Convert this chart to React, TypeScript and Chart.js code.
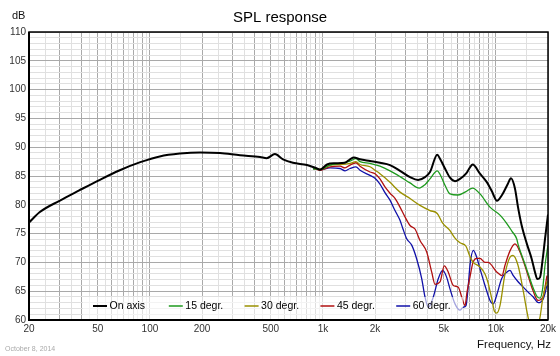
import React, { useEffect, useRef } from "react";
import { Chart, registerables } from "chart.js";

Chart.register(...registerables);

const FONT = '"Liberation Sans", Arial, Helvetica, sans-serif';

// ---- data (frequency in Hz, level in dB) ----
const freqOnAxis = [20, 23, 30, 39, 51, 67, 88, 114, 149, 195, 254, 332, 433, 473, 528, 588, 671, 809, 924, 962, 1056, 1174, 1342, 1434, 1512, 1638, 1871, 2137, 2442, 2790, 3188, 3546, 3891, 4159, 4580, 4750, 5076, 5428, 5800, 6198, 6714, 7082, 7340, 8090, 8880, 9492, 10140, 10844, 11744, 12220, 12890, 13416, 14092, 15066, 16100, 16824, 17350, 17986, 18640, 19222, 20000];
const dbOnAxis = [76.9, 78.7, 80.7, 82.5, 84.3, 86.0, 87.4, 88.4, 88.9, 89.1, 89.0, 88.6, 88.3, 88.1, 88.8, 87.9, 87.3, 86.9, 86.3, 86.1, 87.0, 87.2, 87.3, 87.9, 88.2, 87.9, 87.6, 87.3, 86.9, 85.9, 84.8, 84.3, 84.8, 85.7, 88.7, 88.0, 86.3, 84.7, 84.1, 84.5, 85.4, 86.5, 87.0, 85.4, 83.9, 82.3, 80.7, 81.7, 83.7, 84.6, 82.8, 79.6, 76.4, 73.3, 70.6, 68.3, 67.1, 67.4, 70.6, 74.1, 78.3];

const freq15 = [876, 962, 1099, 1256, 1434, 1552, 1638, 1871, 2137, 2442, 2790, 3188, 3600, 3891, 4159, 4580, 4750, 5076, 5428, 6036, 6714, 7340, 8090, 9242, 10556, 11588, 12386, 13180, 13470, 14396, 15388, 16444, 17350, 18000, 18640, 19222, 20000];
const db15 = [86.3, 86.1, 86.9, 87.2, 87.6, 88.0, 87.5, 87.2, 86.7, 85.9, 84.9, 83.8, 82.9, 83.5, 84.5, 85.9, 85.3, 83.4, 81.9, 81.7, 82.3, 82.9, 81.9, 79.6, 78.2, 76.7, 75.4, 74.1, 73.0, 70.5, 68.0, 65.5, 64.0, 63.8, 65.5, 69.5, 73.0];

const freq30 = [876, 962, 1099, 1256, 1434, 1552, 1638, 1871, 2000, 2137, 2284, 2442, 2790, 3188, 3641, 4159, 4580, 4924, 5428, 5800, 6198, 6714, 7082, 7400, 8090, 8646, 9000, 9492, 9800, 10100, 10556, 11286, 12060, 12552, 13416, 14396, 15126, 15740, 16444, 17280, 17986, 18718, 19736];
const db30 = [86.3, 86.2, 86.9, 87.0, 87.2, 87.5, 87.0, 86.6, 86.0, 85.4, 84.7, 83.9, 82.2, 81.1, 79.9, 79.0, 78.5, 76.8, 75.5, 74.2, 73.4, 72.8, 71.0, 70.0, 69.2, 68.0, 66.5, 63.5, 61.5, 61.2, 62.5, 68.0, 70.9, 71.2, 69.5, 65.0, 61.4, 59.0, 57.5, 58.5, 60.5, 64.0, 66.7];

const freq45 = [876, 962, 1099, 1256, 1342, 1434, 1552, 1638, 1871, 2000, 2137, 2284, 2442, 2610, 2790, 2982, 3188, 3407, 3641, 3980, 4254, 4446, 4750, 5030, 5306, 5671, 6060, 6342, 6626, 6804, 7082, 7372, 7772, 8090, 8646, 9000, 10140, 10844, 11286, 12060, 12890, 13780, 15126, 16380, 17512, 18718, 19736];
const db45 = [86.4, 86.0, 86.6, 86.7, 86.4, 86.9, 87.3, 86.7, 85.7, 85.4, 84.5, 83.1, 82.0, 81.1, 79.6, 77.9, 76.4, 75.8, 73.8, 71.8, 68.3, 66.2, 66.6, 69.4, 68.3, 66.0, 65.7, 64.0, 62.5, 64.8, 67.5, 70.0, 70.7, 70.7, 70.0, 70.0, 68.3, 67.7, 69.5, 72.0, 73.2, 71.8, 68.3, 65.1, 63.4, 64.0, 67.7];

const freq60 = [876, 962, 1099, 1256, 1342, 1434, 1552, 1638, 1871, 2000, 2137, 2284, 2442, 2610, 2790, 2903, 3051, 3260, 3484, 3724, 3891, 4066, 4346, 4646, 4924, 5194, 5428, 5800, 6198, 6452, 6714, 6924, 7082, 7400, 7742, 8090, 8646, 9242, 9658, 10100, 10800, 11546, 12060, 12600, 13470, 14396, 15388, 16444, 17580, 18790, 19736];
const db60 = [86.3, 86.1, 86.4, 86.3, 85.9, 86.3, 86.6, 86.0, 85.1, 84.6, 83.6, 82.1, 80.8, 79.0, 77.3, 75.8, 74.1, 73.0, 70.6, 67.2, 64.0, 62.2, 64.0, 67.2, 68.6, 67.4, 65.4, 62.8, 61.7, 62.2, 62.5, 66.0, 69.5, 72.1, 70.9, 68.9, 66.0, 63.4, 62.8, 64.3, 67.2, 68.3, 68.6, 67.7, 66.6, 65.7, 64.8, 64.0, 63.0, 63.7, 66.0];

const seriesNames = ["On axis", "15 degr.", "30 degr.", "45 degr.", "60 degr."];
const seriesColors = ["#000000", "#1e9a1e", "#9a9000", "#b01010", "#1010a8"];

const xLabelValues = [20, 50, 100, 200, 500, 1000, 2000, 5000, 10000, 20000];
const xLabelTexts = ["20", "50", "100", "200", "500", "1k", "2k", "5k", "10k", "20k"];
const yMin = 60;
const yMax = 110;

function buildXGrid(): number[] {
  const out: number[] = [];
  for (const d of [10, 100, 1000, 10000]) {
    for (let m = 1; m < 10; m += 0.5) {
      const v = Math.round(m * d);
      if (v >= 20 && v <= 20000 && !out.includes(v)) out.push(v);
    }
  }
  out.push(20000);
  return Array.from(new Set(out)).sort((a, b) => a - b);
}

function isMajorX(v: number): boolean {
  const e = Math.pow(10, Math.floor(Math.log10(v) + 1e-9));
  const m = v / e;
  return Math.abs(m - Math.round(m)) < 1e-6;
}

function pts(f: number[], d: number[]) {
  return f.map((x, i) => ({ x, y: d[i] }));
}

export default function App() {
  const ref = useRef<HTMLCanvasElement | null>(null);

  useEffect(() => {
    const canvas = ref.current;
    if (!canvas) return;
    const xGrid = buildXGrid();
    const all = [
      pts(freqOnAxis, dbOnAxis),
      pts(freq15, db15),
      pts(freq30, db30),
      pts(freq45, db45),
      pts(freq60, db60),
    ];

    const decor = {
      id: "decor",
      beforeDraw(chart: any) {
        const { ctx, width, height } = chart;
        ctx.save();
        ctx.fillStyle = "#ffffff";
        ctx.fillRect(0, 0, width, height);
        ctx.restore();
      },
      afterDatasetsDraw(chart: any) {
        const { ctx, chartArea } = chart;
        const a = chartArea;
        ctx.save();
        ctx.fillStyle = "rgba(255,255,255,0.62)";
        ctx.fillRect(a.left + 54, 297, 380, a.bottom - 297);
        ctx.font = `10.5px ${FONT}`;
        ctx.textBaseline = "middle";
        ctx.textAlign = "left";
        const y = 306;
        seriesNames.forEach((name, i) => {
          const x0 = a.left + 64 + i * 75.8;
          ctx.strokeStyle = seriesColors[i];
          ctx.lineWidth = i === 0 ? 2 : 1.5;
          ctx.beginPath();
          ctx.moveTo(x0, y);
          ctx.lineTo(x0 + 14, y);
          ctx.stroke();
          ctx.fillStyle = "#000";
          ctx.fillText(name, x0 + 16.5, y);
        });
        ctx.restore();
      },
      afterDraw(chart: any) {
        const { ctx, chartArea, width } = chart;
        const a = chartArea;
        ctx.save();
        ctx.strokeStyle = "#000";
        ctx.lineWidth = 1.5;
        ctx.strokeRect(a.left, a.top, a.right - a.left, a.bottom - a.top);
        ctx.lineWidth = 2;
        ctx.beginPath();
        ctx.moveTo(a.left, a.top);
        ctx.lineTo(a.left, a.bottom);
        ctx.lineTo(a.right, a.bottom);
        ctx.stroke();

        ctx.fillStyle = "#000";
        ctx.textBaseline = "middle";
        ctx.font = `15px ${FONT}`;
        ctx.textAlign = "center";
        ctx.fillText("SPL response", width / 2, 18);

        ctx.font = `11px ${FONT}`;
        ctx.textAlign = "left";
        ctx.fillStyle = "#111";
        ctx.fillText("dB", 12, 16);

        ctx.font = `11.5px ${FONT}`;
        ctx.textAlign = "right";
        ctx.fillStyle = "#111";
        ctx.fillText("Frequency, Hz", 551, 345);

        ctx.font = `7px ${FONT}`;
        ctx.textAlign = "left";
        ctx.fillStyle = "#aaaaaa";
        ctx.fillText("October 8, 2014", 5, 349);
        ctx.restore();
      },
    };

    const chart = new Chart(canvas, {
      type: "line",
      data: {
        datasets: all.map((data, i) => ({
          label: seriesNames[i],
          data,
          borderColor: seriesColors[i],
          backgroundColor: seriesColors[i],
          borderWidth: i === 0 ? 2 : 1.3,
          pointRadius: 0,
          fill: false,
          cubicInterpolationMode: "monotone" as const,
        })),
      },
      options: {
        responsive: false,
        animation: false,
        devicePixelRatio: 1,
        parsing: true,
        layout: { padding: { top: 32, right: 12, bottom: 0, left: 0 } },
        plugins: {
          legend: { display: false },
          title: { display: false },
          tooltip: { enabled: false },
        },
        scales: {
          x: {
            type: "logarithmic",
            min: 20,
            max: 20000,
            afterBuildTicks: (s: any) => {
              s.ticks = xGrid.map((v) => ({ value: v }));
            },
            afterFit: (s: any) => {
              s.height = 36;
            },
            ticks: {
              autoSkip: false,
              maxRotation: 0,
              minRotation: 0,
              padding: 3,
              color: "#333",
              font: { family: FONT, size: 10 },
              callback: (v: any) => {
                const idx = xLabelValues.indexOf(Number(v));
                return idx >= 0 ? xLabelTexts[idx] : "";
              },
            },
            grid: {
              drawTicks: false,
              lineWidth: 1,
              color: (c: any) =>
                c.tick && isMajorX(c.tick.value) ? "#a9a9a9" : "#e0e0e0",
            },
            border: { display: false },
          },
          y: {
            type: "linear",
            min: yMin,
            max: yMax,
            afterBuildTicks: (s: any) => {
              const t: any[] = [];
              for (let v = yMin; v <= yMax; v += 1) t.push({ value: v });
              s.ticks = t;
            },
            afterFit: (s: any) => {
              s.width = 29;
            },
            ticks: {
              autoSkip: false,
              padding: 3,
              color: "#333",
              font: { family: FONT, size: 10 },
              callback: (v: any) => (Number(v) % 5 === 0 ? String(v) : ""),
            },
            grid: {
              drawTicks: false,
              lineWidth: 1,
              color: (c: any) =>
                c.tick && c.tick.value % 5 === 0 ? "#a9a9a9" : "#e0e0e0",
            },
            border: { display: false },
          },
        },
      } as any,
      plugins: [decor],
    });

    return () => chart.destroy();
  }, []);

  return (
    <div style={{ position: "fixed", left: 0, top: 0, width: 560, height: 356, background: "#fff" }}>
      <canvas ref={ref} width={560} height={356} style={{ display: "block", width: 560, height: 356 }} />
    </div>
  );
}
